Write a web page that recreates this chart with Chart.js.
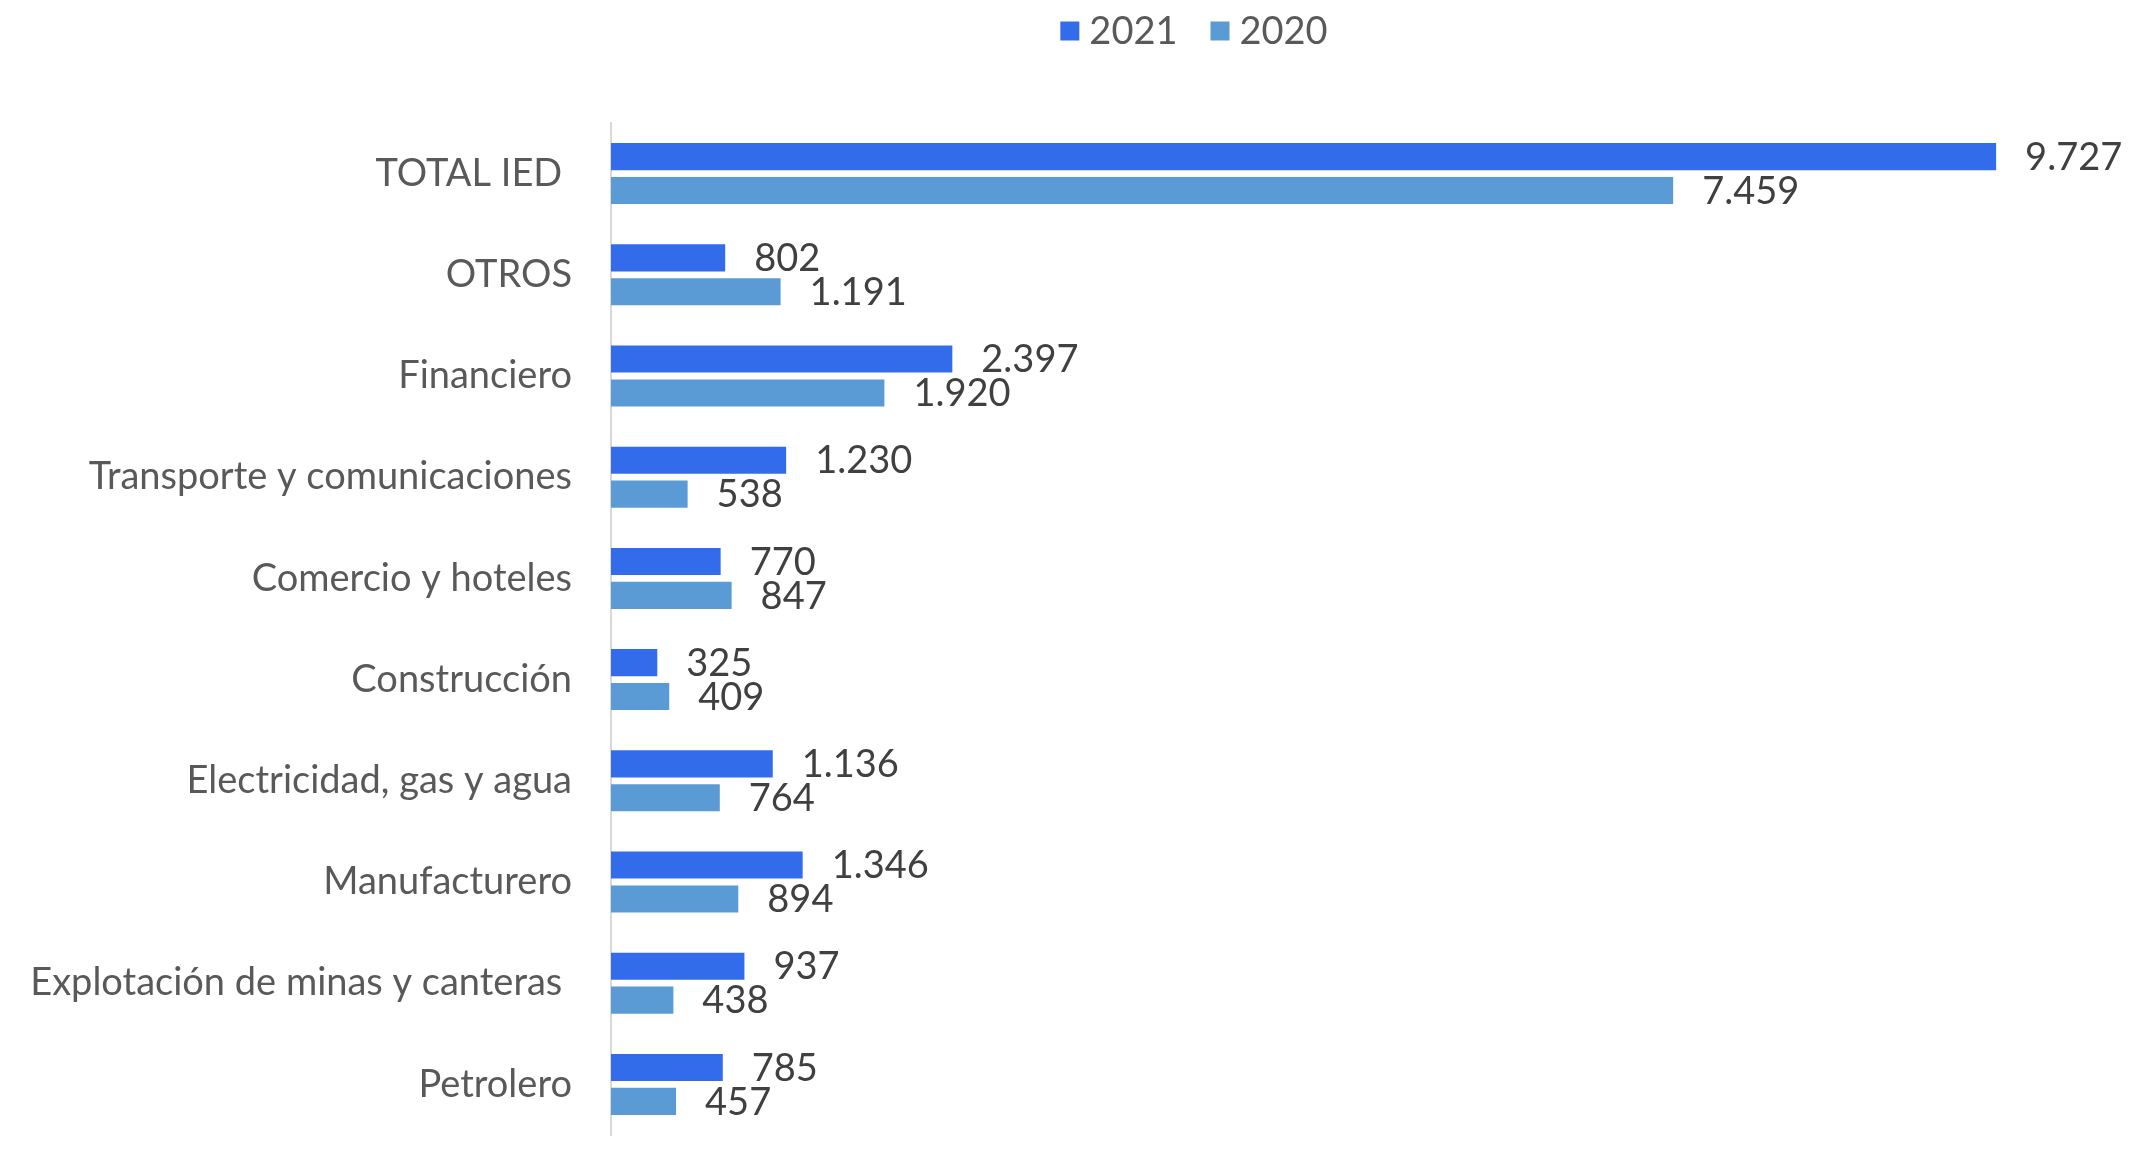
<!DOCTYPE html>
<html>
<head>
<meta charset="utf-8">
<script src="https://cdn.jsdelivr.net/npm/chart.js@4"></script>
<style>
  html, body { margin: 0; padding: 0; background: #fff; }
  canvas { display: block; }
</style>
</head>
<body>
<canvas id="iedChart" width="2139" height="1158"></canvas>
<script>
// IED por sector — 2021 vs 2020

const categories = [
  "TOTAL IED ",
  "OTROS",
  "Financiero",
  "Transporte y comunicaciones",
  "Comercio y hoteles",
  "Construcción",
  "Electricidad, gas y agua",
  "Manufacturero",
  "Explotación de minas y canteras ",
  "Petrolero",
];
const values2021 = [9727, 802, 2397, 1230, 770, 325, 1136, 1346, 937, 785];
const values2020 = [7459, 1191, 1920, 538, 847, 409, 764, 894, 438, 457];

const FONT = "Lato, 'Noto Sans', sans-serif";

// miles con punto: 9727 -> 9.727
function fmt(v) {
  return String(v).replace(/\B(?=(\d{3})+(?!\d))/g, ".");
}

// ─── Data labels ──────────────────────────────────────────────────────────────
const valueLabels = {
  id: "valueLabels",
  afterDatasetsDraw(chart) {
    const ctx = chart.ctx;
    ctx.save();
    ctx.font = `38px ${FONT}`;
    ctx.fillStyle = "#404040";
    ctx.textAlign = "left";
    ctx.textBaseline = "middle";
    chart.data.datasets.forEach((ds, i) => {
      chart.getDatasetMeta(i).data.forEach((bar, j) => {
        ctx.fillText(fmt(ds.data[j]), bar.x + 29, bar.y + 1);
      });
    });
    ctx.restore();
  }
};

// ─── Legend (a bit right of centre, like the original) ───────────────────────
const topLegend = {
  id: "topLegend",
  afterDraw(chart) {
    const ctx = chart.ctx;
    const box = 19, gap = 10, itemGap = 33, cx = 1194, cy = 31;
    ctx.save();
    ctx.font = `38px ${FONT}`;
    ctx.textBaseline = "middle";
    ctx.textAlign = "left";
    const items = chart.data.datasets.map(ds => ({
      text: ds.label, color: ds.backgroundColor, w: ctx.measureText(ds.label).width
    }));
    const total = items.reduce((s, it) => s + box + gap + it.w, 0) + itemGap * (items.length - 1);
    let x = cx - total / 2;
    items.forEach(it => {
      ctx.fillStyle = it.color;
      ctx.fillRect(x, cy - box / 2, box, box);
      ctx.fillStyle = "#595959";
      ctx.fillText(it.text, x + box + gap, cy + 1);
      x += box + gap + it.w + itemGap;
    });
    ctx.restore();
  }
};

new Chart(document.getElementById("iedChart"), {
  type: "bar",
  data: {
    labels: categories,
    datasets: [
      { label: "2021", data: values2021, backgroundColor: "#326CEB",
        categoryPercentage: 0.67, barPercentage: 0.8 },
      { label: "2020", data: values2020, backgroundColor: "#5B9BD5",
        categoryPercentage: 0.67, barPercentage: 0.8 },
    ]
  },
  options: {
    indexAxis: "y",
    responsive: false,
    devicePixelRatio: 1,
    animation: false,
    layout: { padding: { left: 0, right: 104, top: 123, bottom: 23 } },
    plugins: {
      tooltip: { enabled: false },
      legend: { display: false }
    },
    scales: {
      x: {
        display: false,
        min: 0,
        max: 10000,
      },
      y: {
        grid: { display: false, drawTicks: false },
        border: { display: true, color: "#D9D9D9", width: 2 },
        ticks: {
          padding: 39,
          color: "#595959",
          font: { family: FONT, size: 38 },
          autoSkip: false,
        },
        afterFit(s) {
          s.width = 611;
          // the tick padding is only meant horizontally
          s.paddingTop = 0;
          s.paddingBottom = 0;
        }
      }
    }
  },
  plugins: [valueLabels, topLegend]
});
</script>
</body>
</html>
